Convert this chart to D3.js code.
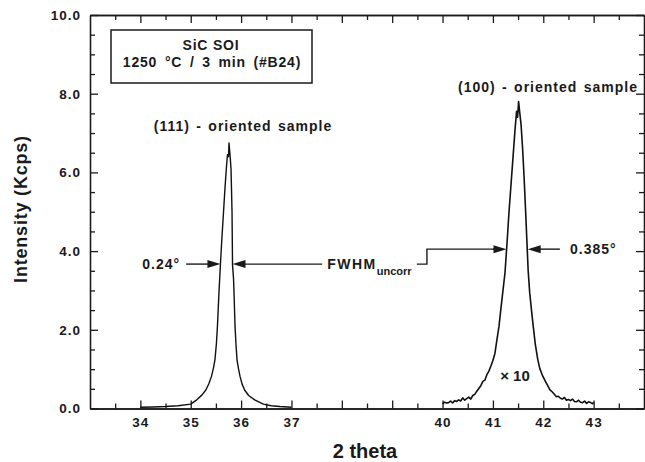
<!DOCTYPE html>
<html>
<head>
<meta charset="utf-8">
<script src="https://cdn.jsdelivr.net/npm/d3@7"></script>
<style>
    body { margin: 0; background: #fff; }
    svg { display: block; font-family: "Liberation Sans", Arial, Helvetica, sans-serif; }
    .axis path, .axis line { stroke: #1a1a1a; stroke-width: 1.3; }
    .axis text { font-size: 13.5px; font-weight: bold; fill: #1a1a1a; letter-spacing: 1px; }
    .lbl { font-weight: bold; fill: #1a1a1a; }
</style>
</head>
<body>
<svg id="chart" width="645" height="462"></svg>
<script>
// (111) peak: 2 theta (deg) and intensity (Kcps)
const theta111 = [34.00, 34.25, 34.50, 34.75, 35.00, 35.12, 35.22, 35.30, 35.36, 35.41,
    35.45, 35.48, 35.51, 35.53, 35.56, 35.59, 35.62, 35.65, 35.68, 35.71,
    35.73, 35.75, 35.76, 35.78, 35.80, 35.82, 35.83, 35.85, 35.86, 35.88,
    35.90, 35.92, 35.95, 35.98, 36.02, 36.07, 36.15, 36.27, 36.44, 36.60,
    36.77, 37.00];
const counts111 = [0.03, 0.04, 0.05, 0.07, 0.11, 0.22, 0.34, 0.47, 0.63, 0.81,
    1.02, 1.23, 1.65, 2.08, 2.93, 3.67, 4.35, 4.97, 5.60, 6.15,
    6.45, 6.40, 6.75, 6.45, 6.10, 5.00, 3.65, 3.30, 2.93, 2.08,
    1.60, 1.23, 1.00, 0.81, 0.62, 0.47, 0.33, 0.22, 0.11, 0.07,
    0.05, 0.03];

// (100) peak, plotted x10
const theta100 = [40.00, 40.04, 40.08, 40.12, 40.16, 40.20, 40.24, 40.28, 40.32, 40.36,
    40.40, 40.44, 40.48, 40.52, 40.56, 40.60, 40.64, 40.68, 40.72, 40.76,
    40.80, 40.84, 40.88, 40.92, 40.96, 41.00, 41.04, 41.08, 41.12, 41.16,
    41.20, 41.24, 41.28, 41.32, 41.36, 41.40, 41.44, 41.47, 41.49, 41.51,
    41.53, 41.56, 41.59, 41.62, 41.65, 41.67, 41.70, 41.73, 41.77, 41.80,
    41.84, 41.89, 41.93, 41.98, 42.03, 42.08, 42.13, 42.18, 42.22, 42.26,
    42.30, 42.34, 42.38, 42.42, 42.46, 42.50, 42.54, 42.58, 42.62, 42.66,
    42.70, 42.74, 42.78, 42.82, 42.86, 42.90, 42.94, 42.98, 43.00];
const counts100x10 = [0.12, 0.16, 0.14, 0.15, 0.19, 0.14, 0.20, 0.18, 0.22, 0.19,
    0.27, 0.21, 0.25, 0.29, 0.24, 0.33, 0.36, 0.44, 0.51, 0.58,
    0.69, 0.72, 0.86, 0.95, 1.08, 1.22, 1.40, 1.75, 2.08, 2.55,
    3.00, 3.45, 4.20, 5.00, 5.70, 6.40, 7.10, 7.55, 7.40, 7.80,
    7.55, 7.20, 6.60, 5.85, 5.00, 4.40, 3.50, 2.95, 2.45, 2.10,
    1.65, 1.25, 1.02, 0.85, 0.72, 0.60, 0.48, 0.42, 0.36, 0.30,
    0.31, 0.26, 0.24, 0.28, 0.21, 0.23, 0.20, 0.24, 0.18, 0.17,
    0.21, 0.16, 0.15, 0.19, 0.13, 0.17, 0.15, 0.12, 0.16];

const xDomain = [33, 44];
const yDomain = [0, 10];
const xLabelled = [34, 35, 36, 37, 40, 41, 42, 43];
const yLabelled = [0, 2, 4, 6, 8, 10];

const svg = d3.select('#chart');
const x = d3.scaleLinear().domain(xDomain).range([90, 644]);
const y = d3.scaleLinear().domain(yDomain).range([408.5, 15]);

const xMinor = d3.range(33.5, 44, 1);
const xMajor = d3.range(34, 44, 1);
const yMinor = d3.range(0.5, 10, 0.5).filter(v => v % 2 !== 0);

// axes with inward ticks on all four sides
const bottomAxis = svg.append('g').attr('class', 'axis').attr('transform', `translate(0,${y(0)})`);
bottomAxis.call(d3.axisBottom(x).tickValues(xMinor).tickSize(-5).tickSizeOuter(0).tickFormat(''));
bottomAxis.append('g').call(d3.axisBottom(x).tickValues(xMajor).tickSize(-8).tickSizeOuter(0)
    .tickPadding(9).tickFormat(d => xLabelled.includes(d) ? d : ''));

const topAxis = svg.append('g').attr('class', 'axis').attr('transform', `translate(0,${y(10)})`);
topAxis.call(d3.axisTop(x).tickValues(xMinor).tickSize(-5).tickSizeOuter(0).tickFormat(''));
topAxis.append('g').call(d3.axisTop(x).tickValues(xMajor).tickSize(-8).tickSizeOuter(0).tickFormat(''));

const leftAxis = svg.append('g').attr('class', 'axis').attr('transform', `translate(${x(33)},0)`);
leftAxis.call(d3.axisLeft(y).tickValues(yMinor).tickSize(-5).tickSizeOuter(0).tickFormat(''));
leftAxis.append('g').call(d3.axisLeft(y).tickValues(yLabelled).tickSize(-8).tickSizeOuter(0)
    .tickPadding(9).tickFormat(d3.format('.1f')));

const rightAxis = svg.append('g').attr('class', 'axis').attr('transform', `translate(${x(44)},0)`);
rightAxis.call(d3.axisRight(y).tickValues(yMinor).tickSize(-5).tickSizeOuter(0).tickFormat(''));
rightAxis.append('g').call(d3.axisRight(y).tickValues(yLabelled).tickSize(-8).tickSizeOuter(0).tickFormat(''));

// the two diffraction peaks
const line = d3.line().x(d => x(d[0])).y(d => y(d[1]));
svg.append('path')
    .datum(d3.zip(theta111, counts111))
    .attr('d', line)
    .attr('fill', 'none')
    .attr('stroke', '#111')
    .attr('stroke-width', 1.4)
    .attr('stroke-linejoin', 'round');
svg.append('path')
    .datum(d3.zip(theta100, counts100x10))
    .attr('d', line)
    .attr('fill', 'none')
    .attr('stroke', '#111')
    .attr('stroke-width', 1.6)
    .attr('stroke-linejoin', 'round');

// sample box
svg.append('rect')
    .attr('x', 111).attr('y', 30).attr('width', 201).attr('height', 53)
    .attr('fill', 'none').attr('stroke', '#1a1a1a').attr('stroke-width', 1.5);
svg.append('text').attr('class', 'lbl').attr('x', 211).attr('y', 50)
    .attr('text-anchor', 'middle').style('font-size', '14px').style('letter-spacing', '0.8px')
    .text('SiC SOI');
svg.append('text').attr('class', 'lbl').attr('x', 212).attr('y', 67)
    .attr('text-anchor', 'middle').style('font-size', '14px').style('letter-spacing', '0.8px')
    .style('word-spacing', '3px')
    .text('1250 °C / 3 min (#B24)');

// peak labels
svg.append('text').attr('class', 'lbl').attr('x', 243).attr('y', 131)
    .attr('text-anchor', 'middle').style('font-size', '14px').style('letter-spacing', '1px')
    .style('word-spacing', '1.5px')
    .text('(111) - oriented sample');
svg.append('text').attr('class', 'lbl').attr('x', 548).attr('y', 92)
    .attr('text-anchor', 'middle').style('font-size', '14px').style('letter-spacing', '1px')
    .style('word-spacing', '1.5px')
    .text('(100) - oriented sample');
svg.append('text').attr('class', 'lbl').attr('x', 515).attr('y', 381)
    .attr('text-anchor', 'middle').style('font-size', '15px')
    .text('× 10');

// FWHM arrows
function arrow(x1, x2, yv) {
    const px1 = x(x1), px2 = x(x2), py = y(yv);
    const dir = px2 > px1 ? 1 : -1;
    svg.append('line').attr('x1', px1).attr('x2', px2 - dir * 8).attr('y1', py).attr('y2', py)
        .attr('stroke', '#1a1a1a').attr('stroke-width', 1.4);
    svg.append('path')
        .attr('d', `M${px2},${py}L${px2 - dir * 13},${py - 4}L${px2 - dir * 13},${py + 4}Z`)
        .attr('fill', '#1a1a1a');
}
arrow(34.91, 35.59, 3.67);
arrow(37.61, 35.83, 3.67);
arrow(42.33, 41.69, 4.05);

// stepped leader from FWHM label to the (100) peak
svg.append('path')
    .attr('d', `M${x(39.49)},${y(3.67)}H${x(39.69)}V${y(4.05)}H${x(41.05)}`)
    .attr('fill', 'none').attr('stroke', '#1a1a1a').attr('stroke-width', 1.4);
arrow(41.0, 41.27, 4.05);

svg.append('text').attr('class', 'lbl').attr('x', x(34.79)).attr('y', y(3.67) + 5)
    .attr('text-anchor', 'end').style('font-size', '14px').style('letter-spacing', '1px')
    .text('0.24°');
svg.append('text').attr('class', 'lbl').attr('x', x(42.53)).attr('y', y(4.05) + 5)
    .style('font-size', '14px').style('letter-spacing', '1px')
    .text('0.385°');
const fw = svg.append('text').attr('class', 'lbl').attr('x', x(37.71)).attr('y', y(3.67) + 5)
    .style('font-size', '14px').style('letter-spacing', '1.5px');
fw.append('tspan').text('FWHM');
fw.append('tspan').attr('dy', 6).style('font-size', '11px').style('letter-spacing', '0px').text('uncorr');

// axis titles
svg.append('text').attr('class', 'lbl')
    .attr('transform', 'translate(27,209) rotate(-90)')
    .attr('text-anchor', 'middle').style('font-size', '18px').style('letter-spacing', '0.8px')
    .text('Intensity (Kcps)');
svg.append('text').attr('class', 'lbl').attr('x', 365).attr('y', 458)
    .attr('text-anchor', 'middle').style('font-size', '20px')
    .text('2 theta');
</script>
</body>
</html>
